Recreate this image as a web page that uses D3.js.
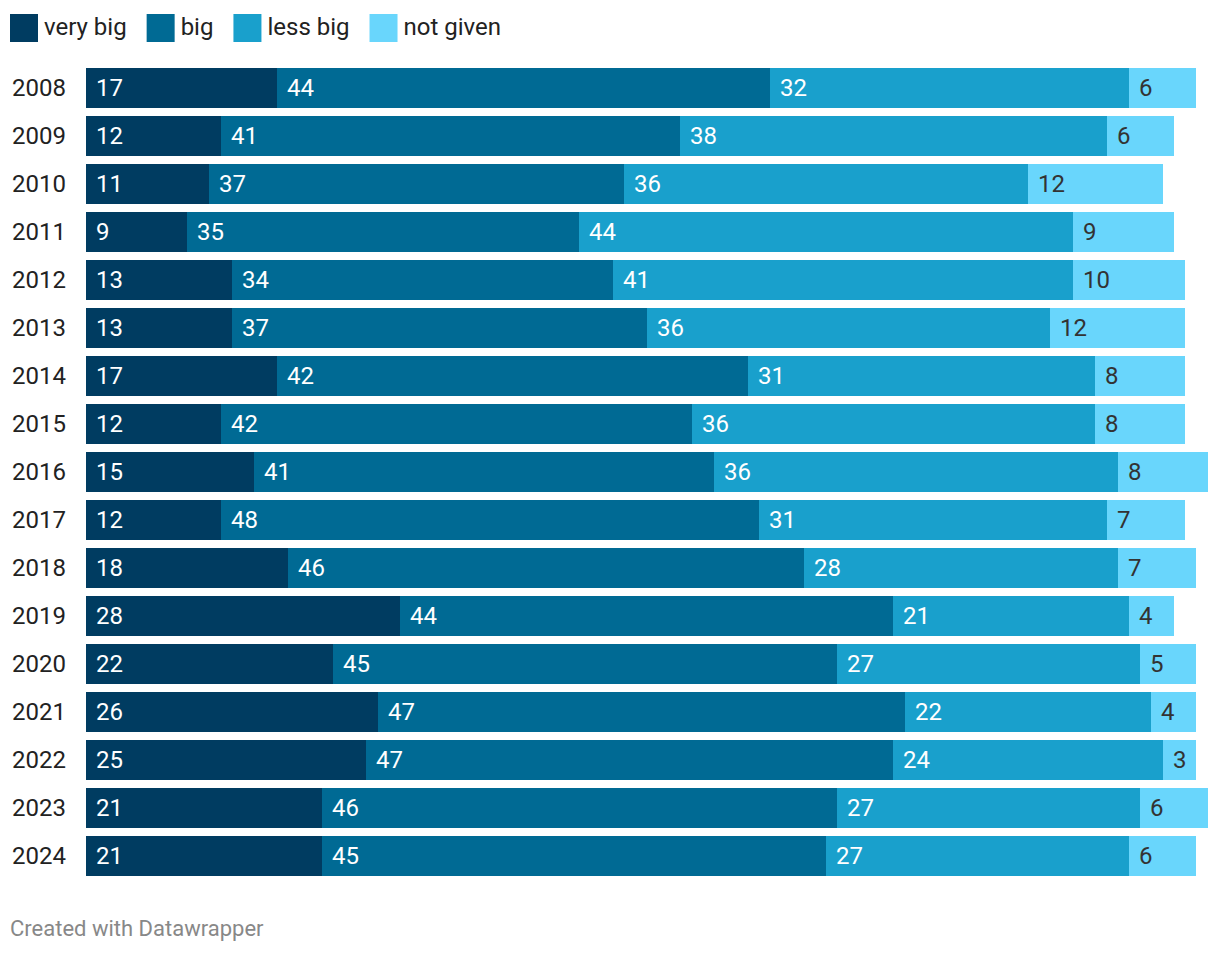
<!DOCTYPE html>
<html><head><meta charset="utf-8">
<script src="https://cdn.jsdelivr.net/npm/d3@7"></script>
<style>
body{margin:0;background:#fff;font-family:Roboto,sans-serif;}
</style></head><body>
<svg id="chart" width="1220" height="954"></svg>
<script>
const years = ["2008","2009","2010","2011","2012","2013","2014","2015","2016","2017","2018","2019","2020","2021","2022","2023","2024"];
const seriesNames = ["very big","big","less big","not given"];
const veryBig  = [17,12,11,9,13,13,17,12,15,12,18,28,22,26,25,21,21];
const big      = [44,41,37,35,34,37,42,42,41,48,46,44,45,47,47,46,45];
const lessBig  = [32,38,36,44,41,36,31,36,36,31,28,21,27,22,24,27,27];
const notGiven = [6,6,12,9,10,12,8,8,8,7,7,4,5,4,3,6,6];
const colors = ["#003c61","#006a94","#19a0cc","#69d6fc"];
const labelColors = ["#ffffff","#ffffff","#ffffff","#333333"];

const svg = d3.select("#chart");
const seriesVals = [veryBig,big,lessBig,notGiven];
const rows = years.map((y,i)=>{const o={year:y}; seriesNames.forEach((s,k)=>o[s]=seriesVals[k][i]); return o;});
const stacked = d3.stack().keys(seriesNames)(rows);

const x = d3.scaleLinear().domain([0,100]).range([86,1207.5]);
const y = d3.scaleBand().domain(years).range([68,876]).paddingInner(1/6).paddingOuter(0);

const fs = 24;
// legend
let lx = 10;
const leg = svg.append("g");
seriesNames.forEach((s,k)=>{
  leg.append("rect").attr("x",lx).attr("y",14).attr("width",28).attr("height",28).attr("fill",colors[k]);
  const t = leg.append("text").attr("x",lx+34).attr("y",27).attr("dy","0.35em")
    .attr("font-size",fs).attr("fill","#222").text(s);
  lx += 34 + t.node().getComputedTextLength() + 20;
});

// year labels
svg.append("g").selectAll("text").data(years).join("text")
  .attr("x",12).attr("y",d=>y(d)+y.bandwidth()/2).attr("dy","0.35em")
  .attr("font-size",fs).attr("fill","#222").text(d=>d);

// bars
const X = v => Math.round(x(v));
stacked.forEach((layer,k)=>{
  const g = svg.append("g");
  g.selectAll("rect").data(layer).join("rect")
    .attr("x",d=>X(d[0])).attr("y",d=>y(d.data.year))
    .attr("width",d=>X(d[1])-X(d[0])).attr("height",y.bandwidth())
    .attr("fill",colors[k]).attr("shape-rendering","crispEdges");
  g.selectAll("text").data(layer).join("text")
    .attr("x",d=>X(d[0])+10).attr("y",d=>y(d.data.year)+y.bandwidth()/2).attr("dy","0.35em")
    .attr("font-size",fs).attr("fill",labelColors[k]).text(d=>d[1]-d[0]);
});

svg.append("text").attr("x",10).attr("y",936).attr("font-size",22).attr("fill","#888")
  .text("Created with Datawrapper");
</script></body></html>
